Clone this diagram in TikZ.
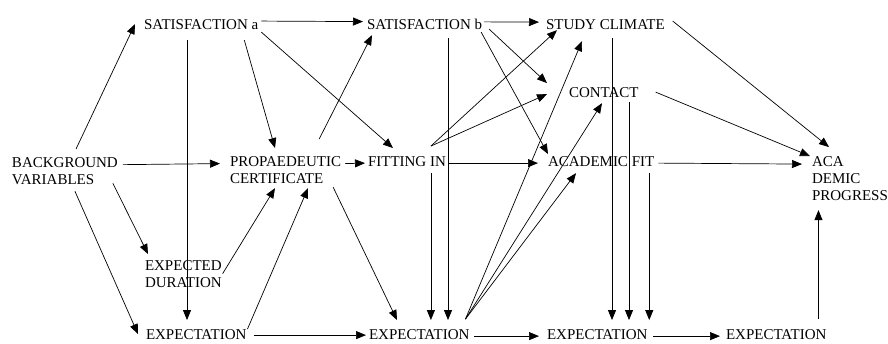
\documentclass[tikz,border=0pt]{standalone}
\usepackage{fontspec}
\setmainfont{Liberation Serif}
\usetikzlibrary{arrows.meta,calc}
\begin{document}
\begin{tikzpicture}[x=1pt,y=-1pt,
  lbl/.style={anchor=base west,inner sep=0pt,outer sep=0pt,align=left,
    font=\fontsize{15}{17}\selectfont},
  arr/.style={-{Triangle[length=10pt,width=8pt]},line width=0.7pt}]
\useasboundingbox (0,0) rectangle (888,343);
\node[lbl] (sata) at (144,29) {SATISFACTION a};
\node[lbl] (satb) at (367,29) {SATISFACTION b};
\node[lbl] (climate) at (546,29) {STUDY CLIMATE};
\node[lbl] (contact) at (569,97) {CONTACT};
\node[lbl] (backgr) at (12,184) {BACKGROUND\\VARIABLES};
\node[lbl] (propaed) at (230,183) {PROPAEDEUTIC\\CERTIFICATE};
\node[lbl] (fitin) at (368,166) {FITTING IN};
\node[lbl] (acfit) at (548,166) {ACADEMIC FIT};
\node[lbl] (progress) at (812,200) {ACA\\DEMIC\\PROGRESS};
\node[lbl] (duration) at (145,287) {EXPECTED\\DURATION};
\node[lbl] (expa) at (146,339) {EXPECTATION};
\node[lbl] (expb) at (369,339) {EXPECTATION};
\node[lbl] (expc) at (547,339) {EXPECTATION};
\node[lbl] (expd) at (726,339) {EXPECTATION};

\draw[arr] ([shift={(64,-8)}]backgr.north west) -- ([shift={(-9,0)}]sata.west);
\draw[arr] ([shift={(5,-6)}]backgr.east) -- ([shift={(-10,-6)}]propaed.west);
\draw[arr] ([shift={(-5,-1)}]backgr.south east) -- ([shift={(3,-6)}]duration.north west);
\draw[arr] ([shift={(10,7)}]backgr.south) -- ([shift={(-8,0)}]expa.west);

\draw[arr] ([shift={(3,2)}]sata.north east) -- ([shift={(-4,3)}]satb.north west);
\draw[arr] ([shift={(-14,11)}]sata.south east) -- ([shift={(45,-8)}]propaed.north west);
\draw[arr] ([shift={(3,8)}]sata.east) -- ([shift={(25,-8)}]fitin.north west);
\draw[arr] ([shift={(43,11)}]sata.south west) coordinate (v1) -- ($(v1 |- expa.north)+(0,-9)$);

\draw[arr] ([shift={(-22,-17)}]propaed.north east) -- ([shift={(5,6)}]satb.south west);
\draw[arr] ([shift={(4,-6)}]propaed.east) -- ([shift={(-3,2)}]fitin.west);
\draw[arr] ([shift={(-8,4)}]propaed.south east) -- ([shift={(28,-9)}]expb.north west);
\draw[arr] ([shift={(1,0)}]duration.east) -- ([shift={(45,5)}]propaed.south west);
\draw[arr] ([shift={(1,0)}]expa.north east) -- ([shift={(78,5)}]propaed.south west);
\draw[arr] ([shift={(8,1)}]expa.east) -- ([shift={(-3,1)}]expb.west);

\draw[arr] ([shift={(2,-2)}]satb.east) -- ([shift={(-7,-2)}]climate.west);
\draw[arr] ([shift={(7,0)}]satb.south east) -- ([shift={(-22,-9)}]contact.west);
\draw[arr] ([shift={(-1,3)}]satb.south east) -- ([shift={(0,-2)}]acfit.north west);
\draw[arr] ([shift={(81,9)}]satb.south west) coordinate (v2) -- ($(v2 |- expb.north)+(0,-9)$);

\draw[arr] ([shift={(-15,-10)}]fitin.north east) -- ([shift={(11,1)}]climate.south west);
\draw[arr] ([shift={(-15,-10)}]fitin.north east) -- ([shift={(-22,2)}]contact.west);
\draw[arr] ([shift={(3,2)}]fitin.east) -- ([shift={(-10,2)}]acfit.west);
\draw[arr] ([shift={(-15,7)}]fitin.south east) coordinate (v3) -- ($(v3 |- expb.north)+(0,-9)$);

\draw[arr] ([shift={(-4,-10)}]expb.north east) -- ([shift={(36,12)}]climate.south west);
\draw[arr] ([shift={(-4,-10)}]expb.north east) -- ([shift={(33,6)}]contact.south west);
\draw[arr] ([shift={(-4,-10)}]expb.north east) -- ([shift={(28,7)}]acfit.south west);
\draw[arr] ([shift={(5,2)}]expb.east) -- ([shift={(-8,2)}]expc.west);

\draw[arr] ([shift={(66,9)}]climate.south west) coordinate (v4) -- ($(v4 |- expc.north)+(0,-9)$);
\draw[arr] ([shift={(60,5)}]contact.south west) coordinate (v5) -- ($(v5 |- expc.north)+(0,-9)$);
\draw[arr] ([shift={(-5,7)}]acfit.south east) coordinate (v6) -- ($(v6 |- expc.north)+(0,-9)$);

\draw[arr] ([shift={(8,-3)}]climate.east) -- ([shift={(17,-9)}]progress.north west);
\draw[arr] ([shift={(17,0)}]contact.east) -- ([shift={(-2,0)}]progress.north west);
\draw[arr] ([shift={(4,2)}]acfit.east) -- ([shift={(-10,8)}]progress.north west);
\draw[arr] ([shift={(6,2)}]expc.east) -- ([shift={(-6,2)}]expd.west);
\draw[arr] ([shift={(-8,-10)}]expd.north east) coordinate (v7) -- ($(v7 |- progress.south)+(0,10)$);
\end{tikzpicture}
\end{document}
